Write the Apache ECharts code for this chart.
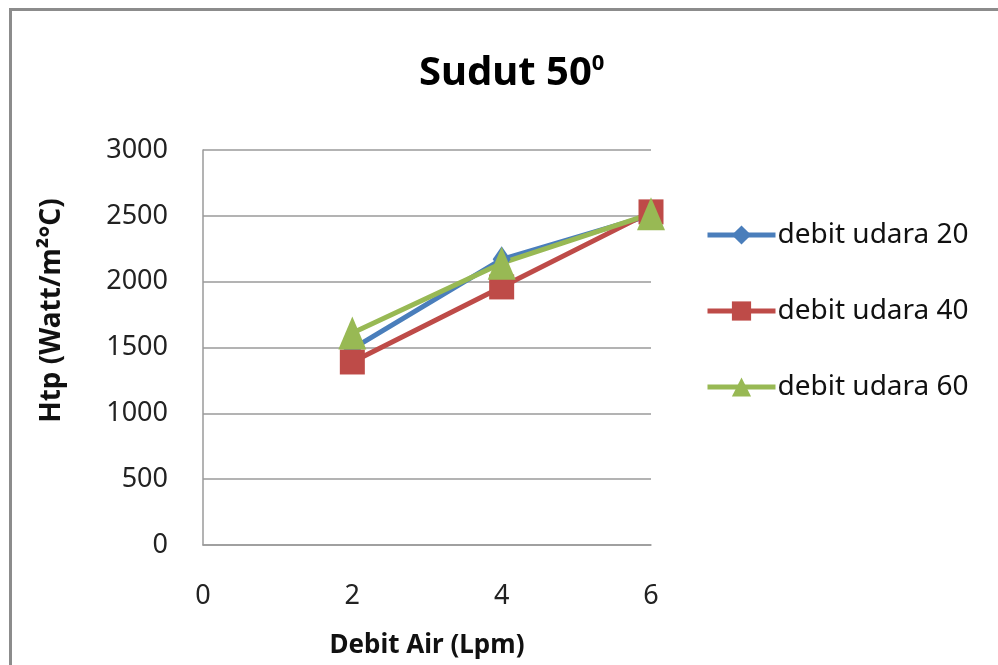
<!DOCTYPE html>
<html>
<head>
<meta charset="utf-8">
<title>Sudut 50</title>
<script src="https://cdn.jsdelivr.net/npm/echarts@6/dist/echarts.min.js"></script>
<style>
    html, body { margin: 0; padding: 0; background: #fff; }
    #chart { width: 998px; height: 665px; }
</style>
</head>
<body>
<div id="chart"></div>
<script>
// data
const debitAir = [2, 4, 6];
const udara20 = [1490, 2170, 2505];
const udara40 = [1390, 1960, 2530];
const udara60 = [1610, 2140, 2515];
const seriesNames = ['debit udara 20', 'debit udara 40', 'debit udara 60'];
const yTicks = [0, 500, 1000, 1500, 2000, 2500, 3000];
const xTicks = [0, 2, 4, 6];

const font = '"Noto Sans", "DejaVu Sans", sans-serif';

function pairs(values) {
    return debitAir.map((x, i) => [x, values[i]]);
}

window.onload = function () {
    let chart = echarts.init(document.getElementById('chart'));

    let option = {
        animation: false,
        backgroundColor: '#fff',
        textStyle: { fontFamily: font },
        title: {
            text: 'Sudut 50{sup|0}',
            left: 414,
            top: 48,
            textStyle: {
                fontFamily: font,
                fontSize: 40,
                fontWeight: 'bold',
                color: '#000',
                rich: {
                    sup: {
                        fontFamily: font,
                        fontSize: 22,
                        fontWeight: 'bold',
                        color: '#000',
                        verticalAlign: 'top',
                        padding: [0, 0, 20, 0]
                    }
                }
            }
        },
        // outer frame of the chart
        graphic: [{
            type: 'rect',
            shape: { x: 10.5, y: 9.5, width: 1200, height: 1000 },
            style: { fill: 'none', stroke: '#8c8c8c', lineWidth: 3 },
            silent: true
        }],
        legend: {
            orient: 'vertical',
            left: 700,
            top: 216,
            itemWidth: 68,
            itemHeight: 24,
            itemGap: 48,
            data: seriesNames,
            lineStyle: { width: 5 },
            textStyle: { fontFamily: font, fontSize: 28, color: '#111', padding: [0, 0, 0, -3] }
        },
        grid: {
            left: 203,
            right: 347,
            top: 150,
            bottom: 120
        },
        xAxis: {
            type: 'value',
            min: xTicks[0],
            max: xTicks[xTicks.length - 1],
            interval: 2,
            name: 'Debit Air (Lpm)',
            nameLocation: 'middle',
            nameGap: 88,
            nameTextStyle: { fontFamily: font, fontSize: 26, fontWeight: 'bold', color: '#111' },
            axisLine: { show: true, lineStyle: { color: '#9a9a9a', width: 1.5 } },
            axisTick: { show: false },
            splitLine: { show: false },
            axisLabel: { fontFamily: font, fontSize: 27, color: '#222', margin: 38 }
        },
        yAxis: {
            type: 'value',
            min: yTicks[0],
            max: yTicks[yTicks.length - 1],
            interval: 500,
            name: 'Htp (Watt/m²°C)',
            nameLocation: 'middle',
            nameGap: 137,
            nameTextStyle: { fontFamily: font, fontSize: 28, fontWeight: 'bold', color: '#111', padding: [0, 0, 0, 74] },
            axisLine: { show: true, lineStyle: { color: '#9a9a9a', width: 1.5 } },
            axisTick: { show: false },
            splitLine: { show: true, lineStyle: { color: '#9a9a9a', width: 1.5 } },
            axisLabel: {
                fontFamily: font, fontSize: 27, color: '#222', margin: 35,
                formatter: (v) => String(v)
            }
        },
        series: [
            {
                name: seriesNames[0],
                type: 'line',
                data: pairs(udara20),
                symbol: 'diamond',
                symbolSize: [18, 26],
                lineStyle: { color: '#4a7ebb', width: 5 },
                itemStyle: { color: '#4a7ebb' }
            },
            {
                name: seriesNames[1],
                type: 'line',
                data: pairs(udara40),
                symbol: 'rect',
                symbolSize: 25,
                lineStyle: { color: '#be4b48', width: 5 },
                itemStyle: { color: '#be4b48' }
            },
            {
                name: seriesNames[2],
                type: 'line',
                data: pairs(udara60),
                symbol: 'triangle',
                symbolSize: [28, 33],
                lineStyle: { color: '#98b954', width: 5 },
                itemStyle: { color: '#98b954' }
            }
        ]
    };
    chart.setOption(option);
}
</script>
</body>
</html>
